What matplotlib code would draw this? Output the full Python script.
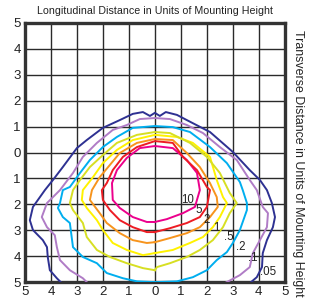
import matplotlib.pyplot as plt
import numpy as np

# iso-illuminance contours (data units = mounting heights, + is behind)
levels = ["10", "5", "2", "1", ".5", ".2", ".1", ".05"]
colors = ["#ec008c", "#ed1c24", "#f7941d", "#fff200", "#d7df23", "#00aeef", "#b07cc6", "#2e3192"]

x_05 = [-3.58, -3.77, -4.04, -4.12, -4.15, -4.31, -4.69, -4.81, -4.69, -4.23, -3.92, -3.54, -3.0, -2.62, -2.0, -1.35,
        -0.85, -0.46, -0.19, 0.0, 0.19, 0.42, 0.85, 1.23, 2.12, 3.0, 3.65, 4.04, 4.31, 4.5, 4.62, 4.54, 4.31, 4.15,
        4.12, 3.92, 3.65]
y_05 = [-5.04, -4.85, -4.54, -4.03, -3.65, -3.38, -2.99, -2.61, -2.10, -1.45, -1.06, -0.56, 0.17, 0.48, 0.95, 1.25,
        1.49, 1.56, 1.41, 1.53, 1.41, 1.56, 1.45, 1.25, 0.79, 0.02, -0.68, -1.06, -1.45, -1.95, -2.49, -2.88, -3.38,
        -3.88, -4.42, -4.81, -5.04]

x_1 = [-2.58, -2.77, -3.27, -3.65, -3.77, -3.85, -4.15, -4.35, -4.15, -3.65, -3.15, -2.77, -2.23, -1.62, -1.08,
       -0.58, 0.0, 0.58, 1.23, 1.85, 2.5, 3.15, 3.65, 3.92, 4.15, 4.35, 4.31, 4.04, 3.77, 3.65, 3.27, 2.69]
y_1 = [-5.04, -4.85, -4.54, -4.15, -3.65, -3.19, -2.88, -2.49, -1.95, -1.45, -0.79, -0.17, 0.37, 0.87, 1.06,
       1.29, 1.33, 1.29, 1.06, 0.75, 0.21, -0.29, -1.06, -1.45, -2.10, -2.34, -2.88, -3.38, -3.88, -4.42, -4.73, -5.04]

x_2 = [0.0, -0.69, -1.23, -1.85, -2.23, -2.77, -3.15, -3.27, -3.54, -3.73, -3.65, -3.54, -3.27, -2.88, -2.5, -2.0,
       -1.46, -0.85, 0.0, 0.69, 1.35, 2.12, 2.77, 3.27, 3.38, 3.54, 3.54, 3.27, 3.0, 2.77, 2.38, 2.0, 1.46, 0.85, 0.0]
y_2 = [-5.0, -4.97, -4.85, -4.65, -4.27, -4.03, -3.65, -2.72, -2.49, -2.14, -1.95, -1.45, -1.33, -0.79, -0.29, 0.21,
       0.60, 0.95, 1.02, 0.98, 0.79, 0.21, -0.41, -1.14, -1.45, -1.95, -2.22, -2.99, -3.49, -3.84, -4.15, -4.54,
       -4.81, -4.97, -5.0]

x_5 = [0.0, -0.46, -1.08, -1.73, -2.23, -2.62, -2.77, -3.15, -3.27, -3.15, -2.88, -2.5, -2.0, -1.46, -0.69, 0.0,
       0.58, 1.35, 2.0, 2.5, 2.88, 3.15, 2.88, 2.62, 2.23, 1.73, 1.23, 0.58, 0.08, 0.0]
y_5 = [-4.54, -4.46, -4.27, -4.03, -3.76, -3.26, -2.72, -2.22, -1.95, -1.45, -1.06, -0.56, -0.10, 0.37, 0.68, 0.79,
       0.75, 0.37, -0.17, -0.79, -1.56, -1.95, -2.34, -2.88, -3.38, -3.76, -4.03, -4.27, -4.42, -4.54]

x_10 = [0.0, -0.46, -1.08, -1.62, -2.0, -2.23, -2.62, -2.81, -2.77, -2.38, -2.0, -1.46, -0.85, 0.0, 0.85, 1.46,
        2.12, 2.38, 2.62, 2.77, 2.5, 2.23, 1.85, 1.35, 0.69, 0.0]
y_10 = [-3.88, -3.96, -3.76, -3.49, -2.99, -2.61, -2.14, -1.83, -1.45, -0.95, -0.41, 0.10, 0.48, 0.68, 0.60, 0.37,
        -0.17, -1.06, -1.72, -1.95, -2.49, -2.88, -3.26, -3.49, -3.76, -3.88]

x_20 = [0.0, -0.31, -0.85, -1.35, -1.85, -2.12, -2.5, -2.42, -2.12, -1.73, -1.35, -0.69, 0.0, 0.69, 1.23, 1.73,
        2.12, 2.38, 2.42, 2.12, 1.73, 1.23, 0.58, 0.0]
y_20 = [-3.46, -3.49, -3.38, -3.11, -2.72, -2.34, -1.83, -1.45, -0.95, -0.48, -0.02, 0.37, 0.52, 0.48, -0.02,
        -0.56, -1.18, -1.72, -2.10, -2.49, -2.88, -3.11, -3.30, -3.46]

x_50 = [0.0, -0.31, -0.85, -1.35, -1.73, -2.0, -2.04, -1.85, -1.62, -1.23, -0.69, 0.0, 0.69, 1.08, 1.62, 2.0,
        2.12, 2.0, 1.73, 1.23, 0.58, 0.0]
y_50 = [-3.07, -3.07, -2.88, -2.61, -2.22, -1.83, -1.45, -1.18, -0.68, -0.17, 0.21, 0.44, 0.37, -0.17, -0.68,
        -1.33, -1.45, -2.10, -2.49, -2.72, -2.92, -3.07]

x_100 = [0.0, -0.31, -0.85, -1.35, -1.62, -1.65, -1.46, -1.08, -0.58, 0.0, 0.69, 1.23, 1.62, 1.73, 1.54, 1.08,
         0.46, 0.0]
y_100 = [-2.68, -2.68, -2.49, -2.14, -1.83, -1.18, -0.68, -0.21, 0.17, 0.25, 0.17, -0.29, -0.79, -1.45, -2.10,
         -2.34, -2.57, -2.68]

curves_x = [x_100, x_50, x_20, x_10, x_5, x_2, x_1, x_05]
curves_y = [y_100, y_50, y_20, y_10, y_5, y_2, y_1, y_05]

# where the level numbers sit
label_x = [1.27, 1.69, 2.0, 2.38, 2.85, 3.31, 3.77, 4.35]
label_y = [-1.83, -2.22, -2.61, -2.92, -3.26, -3.65, -4.07, -4.61]

ticks = np.arange(-5, 6)
tick_labels = [str(abs(t)) for t in ticks]

fig = plt.figure(figsize=(3.19, 3.05), dpi=100)
ax = fig.add_axes([0.078, 0.075, 0.815, 0.85])

for cx, cy, c in zip(curves_x, curves_y, colors):
    ax.plot(cx, cy, color=c, lw=1.4, solid_joinstyle="round", zorder=3)

for lx, ly, lab in zip(label_x, label_y, levels):
    ax.text(lx, ly, lab, fontsize=8.3, ha="center", va="center",
            family=["Liberation Sans", "DejaVu Sans"], color="#222222", zorder=4)

ax.set_xlim(-5, 5)
ax.set_ylim(-5, 5)
ax.set_xticks(ticks)
ax.set_yticks(ticks)
ax.set_xticklabels(tick_labels, family="Liberation Sans", fontsize=9.5)
ax.set_yticklabels(tick_labels, family="Liberation Sans", fontsize=9.5)
ax.tick_params(length=0, pad=3, colors="#222222")
ax.grid(True, color="#2a2a2a", lw=1.0, zorder=1)
ax.set_axisbelow(True)
for s in ax.spines.values():
    s.set_linewidth(2.4)
    s.set_color("#333333")

fig.text(0.485, 0.965, "Longitudinal Distance in Units of Mounting Height", ha="center", va="center",
         fontsize=7.7, family=["Liberation Sans Narrow", "Liberation Sans"], color="#222222")
fig.text(0.935, 0.465, "Transverse Distance in Units of Mounting Height", ha="center", va="center",
         rotation=-90, fontsize=8.9, family=["Liberation Sans Narrow", "Liberation Sans"], color="#222222")

fig.savefig("out.png", dpi=100)
